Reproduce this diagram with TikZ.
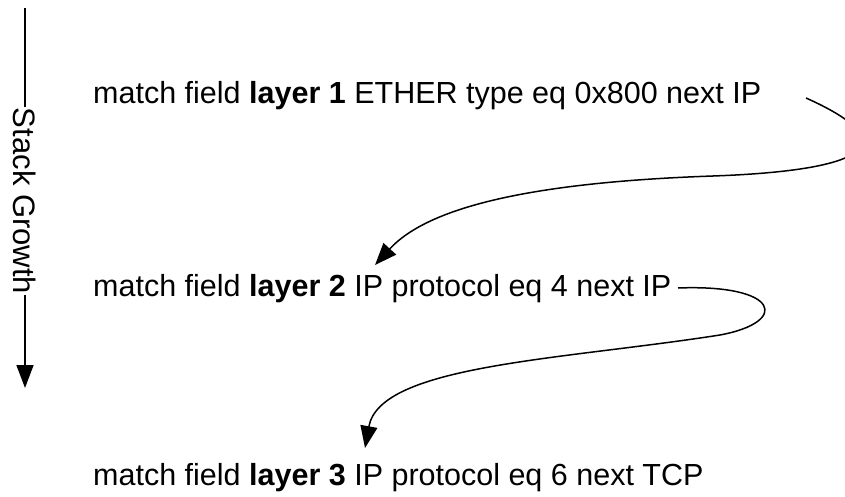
\documentclass[tikz,border=0pt]{standalone}
\usepackage{fontspec}
\setmainfont{Liberation Sans}
\usetikzlibrary{arrows.meta}
\begin{document}
\begin{tikzpicture}[x=1pt,y=-1pt,
  lbl/.style={anchor=base west,inner sep=0pt,font=\fontsize{30.5}{36}\selectfont},
  conn/.style={line width=1.5pt,-{Triangle[length=22pt,width=17pt]}}]
\useasboundingbox (0,0) rectangle (845,497);
\clip (0,0) rectangle (845,497);
% stack growth
\node[rotate=-90,inner sep=1pt,font=\fontsize{31}{36}\selectfont] (sg) at (25,201) {Stack Growth};
\coordinate (sgtop) at (25,8);
\coordinate (sgbot) at (25,388);
\draw[line width=1.6pt] (sgtop) -- (sg.west);
\draw[line width=1.6pt,-{Triangle[length=23pt,width=17pt]}] (sg.east) -- (sgbot);
% lines
\node[lbl] (l1) at (93,104) {match field \textbf{layer 1} ETHER type eq 0x800 next IP};
\node[lbl] (l2) at (93,296) {match field \textbf{layer 2} IP protocol eq 4 next IP};
\node[lbl] (l3) at (93,485) {match field \textbf{layer 3} IP protocol eq 6 next TCP};
% connectors
\coordinate (s1) at (806,98);
\coordinate (m1) at (713,176);
\coordinate (e1) at (375,265);
\coordinate (s2) at (678,288);
\coordinate (m2) at (720,335);
\coordinate (e2) at (365,448);
\draw[conn] (s1) .. controls (900,140) and (880,170) .. (m1)
  .. controls (540,182) and (430,205) .. (e1);
\draw[conn] (s2) .. controls (780,284) and (790,322) .. (m2)
  .. controls (560,360) and (380,365) .. (e2);
\end{tikzpicture}
\end{document}
